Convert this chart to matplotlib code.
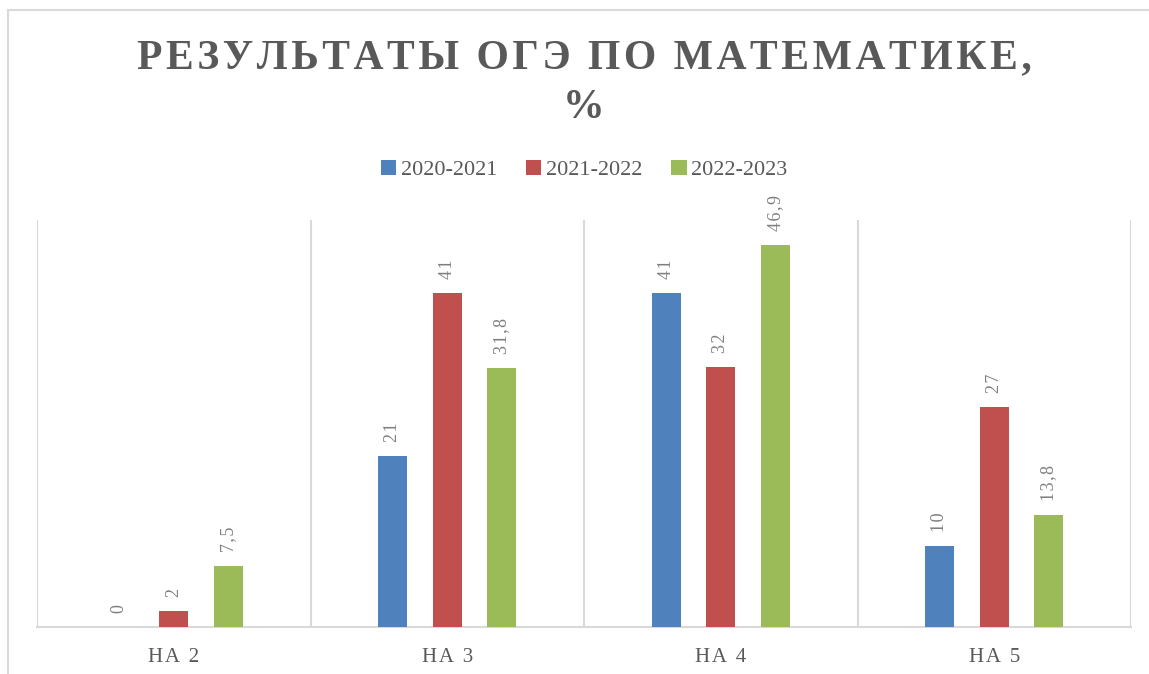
import numpy as np
import matplotlib
matplotlib.use("Agg")
import matplotlib.pyplot as plt
from matplotlib.patches import Rectangle, Patch

categories = ["НА 2", "НА 3", "НА 4", "НА 5"]
series_names = ["2020-2021", "2021-2022", "2022-2023"]
v_2020_2021 = [0, 21, 41, 10]
v_2021_2022 = [2, 41, 32, 27]
v_2022_2023 = [7.5, 31.8, 46.9, 13.8]
colors = ["#4F81BD", "#C0504D", "#9BBB59"]

SERIF = ["Liberation Serif", "DejaVu Serif"]
HS = "\u200a"


def spaced(s):
    return HS.join(s)


def fmt(v):
    s = f"{v:g}".replace(".", ",")
    return spaced(s)


fig = plt.figure(figsize=(11.49, 6.74), dpi=100)
fig.patch.set_facecolor("white")

# outer chart border (cropped on right/bottom)
fig.patches.append(Rectangle((8 / 1149, -0.05), 1.2, 1 - 10 / 674 + 0.05,
                             transform=fig.transFigure, fill=False,
                             edgecolor="#D9D9D9", linewidth=1.5))

ax = fig.add_axes([37 / 1149, 1 - 627 / 674, (1131 - 37) / 1149, (627 - 220) / 674])
x = np.arange(len(categories))
width = 0.106
offsets = [-0.2, 0.0, 0.2]
all_vals = [v_2020_2021, v_2021_2022, v_2022_2023]

for vals, off, c, name in zip(all_vals, offsets, colors, series_names):
    bars = ax.bar(x + off, vals, width, color=c, label=name, zorder=3)
    for b, v in zip(bars, vals):
        ax.annotate(fmt(v), (b.get_x() + b.get_width() / 2, b.get_height()),
                    xytext=(0, 10), textcoords="offset points",
                    ha="center", va="bottom", rotation=90,
                    fontsize=13, color="#7F7F7F", family=SERIF)

ax.set_xlim(-0.5, len(categories) - 0.5)
ax.set_ylim(0, 50)
ax.set_yticks([])
ax.set_xticks(x)
ax.set_xticklabels([spaced(c) for c in categories], fontsize=15,
                   color="#595959", family=SERIF)
ax.set_xticks(np.arange(len(categories) + 1) - 0.5, minor=True)
ax.tick_params(axis="x", which="both", length=0, pad=15)
ax.grid(which="minor", axis="x", color="#D9D9D9", linewidth=1.5, zorder=0)
for s in ["top", "left", "right"]:
    ax.spines[s].set_visible(False)
ax.spines["bottom"].set_color("#D9D9D9")
ax.spines["bottom"].set_linewidth(1.5)

cx = (37 + 1131) / 2 / 1149
fig.text(cx, 1 - 58 / 674, spaced("РЕЗУЛЬТАТЫ ОГЭ ПО МАТЕМАТИКЕ,"),
         ha="center", va="center", fontsize=30, fontweight="bold",
         color="#595959", family=SERIF)
fig.text(cx, 1 - 108 / 674, "%", ha="center", va="center", fontsize=30,
         fontweight="bold", color="#595959", family=SERIF)

handles = [Patch(facecolor=c, label=n) for c, n in zip(colors, series_names)]
fig.legend(handles=handles, loc="center", bbox_to_anchor=(cx, 1 - 170 / 674),
           ncol=3, frameon=False, handlelength=0.7,
           handleheight=0.7, handletextpad=0.2, columnspacing=1.3,
           prop={"family": SERIF, "size": 16}, labelcolor="#595959")

fig.savefig("out.png", dpi=100)
